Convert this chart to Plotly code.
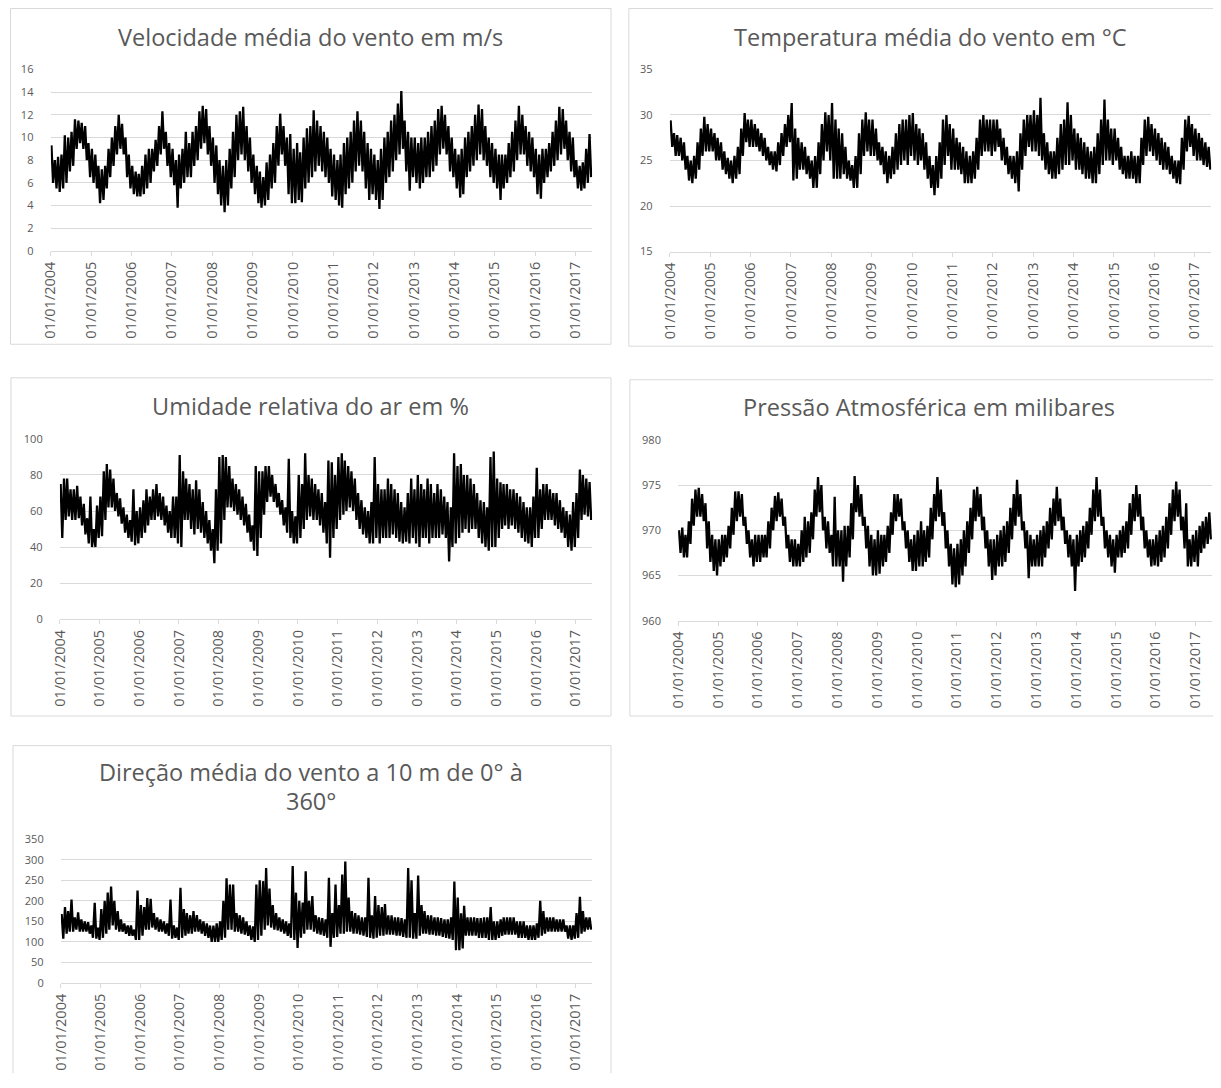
import pandas as pd
import plotly.graph_objects as go

# the page keeps an 8px body margin: figure is sized/positioned to compensate
OFF = 8
W, H = 1221 - OFF, 1088 - OFF

years = list(range(2004, 2018))
tick_vals = [f"{y}-01-01" for y in years]
tick_text = [f"01/01/{y}" for y in years]
months = pd.date_range("2004-01-01", "2017-05-01", freq="MS")

# ---- Velocidade média do vento (m/s): monthly low / high envelope
wind_lo = [6.0, 5.5, 5.2, 5.5, 6.0, 7.0, 7.5, 9.0, 9.5, 9.0, 8.0, 6.5,
           6.0, 5.5, 4.2, 4.5, 5.5, 6.5, 7.5, 8.5, 9.0, 8.5, 6.5, 5.5,
           5.0, 4.8, 4.8, 5.0, 5.5, 6.0, 7.0, 7.5, 8.5, 9.0, 7.5, 6.5,
           5.8, 3.8, 5.5, 6.0, 6.5, 6.5, 7.5, 8.0, 9.0, 9.5, 8.5, 7.5,
           6.0, 5.0, 4.0, 3.4, 4.0, 5.5, 6.5, 8.0, 8.5, 8.0, 7.0, 6.0,
           5.0, 4.2, 3.8, 4.0, 4.5, 5.5, 6.0, 7.5, 8.5, 7.5, 5.0, 4.2,
           4.2, 4.5, 4.3, 5.5, 6.0, 6.5, 7.0, 7.5, 7.0, 6.5, 6.0, 4.8,
           4.5, 4.0, 3.8, 5.0, 5.5, 6.0, 7.0, 7.5, 7.0, 5.5, 4.5, 5.0,
           4.5, 3.7, 4.5, 6.0, 6.5, 7.0, 8.0, 8.5, 9.0, 7.0, 5.3, 6.5,
           6.0, 5.5, 6.0, 6.5, 6.5, 7.0, 7.5, 8.5, 9.0, 8.5, 7.0, 6.5,
           5.5, 4.7, 5.0, 6.5, 7.0, 7.5, 8.0, 8.5, 8.0, 7.5, 6.5, 6.0,
           5.5, 4.5, 5.5, 6.0, 6.5, 7.0, 8.0, 8.5, 8.5, 7.5, 7.0, 6.5,
           5.0, 4.6, 6.0, 6.5, 7.0, 7.5, 8.0, 8.5, 9.0, 8.0, 7.0, 6.5,
           5.5, 5.3, 5.5, 6.0, 6.5]
wind_hi = [9.3, 8.0, 8.3, 8.5, 10.2, 10.0, 10.5, 11.6, 11.5, 11.3, 11.0, 9.5,
           9.0, 8.5, 7.5, 7.2, 7.5, 9.0, 10.0, 11.0, 12.0, 11.2, 10.0, 8.5,
           7.5, 7.0, 6.8, 7.5, 8.5, 9.0, 9.0, 9.8, 11.0, 12.3, 10.5, 9.5,
           9.0, 8.0, 8.5, 9.0, 10.5, 9.5, 10.5, 11.0, 12.3, 12.8, 12.5, 11.0,
           10.0, 9.3, 8.0, 7.5, 8.0, 9.0, 10.5, 12.0, 12.3, 12.7, 11.0, 10.0,
           8.5, 7.5, 7.0, 6.5, 7.8, 8.5, 9.5, 11.0, 12.1, 11.0, 10.0, 10.3,
           9.0, 9.5, 8.7, 10.0, 10.8, 11.0, 12.4, 11.5, 11.0, 10.5, 10.0, 9.0,
           8.5, 8.0, 8.5, 9.5, 10.0, 10.5, 11.5, 12.3, 11.5, 10.5, 9.5, 9.0,
           8.5, 8.0, 9.0, 10.0, 10.5, 11.5, 12.0, 13.0, 14.1, 11.5, 10.5, 10.0,
           10.0, 9.5, 10.0, 10.0, 10.5, 11.0, 11.5, 12.5, 12.8, 12.0, 11.0, 10.0,
           9.0, 8.5, 9.0, 10.0, 10.5, 11.0, 12.0, 12.9, 12.5, 11.0, 10.0, 9.5,
           9.0, 8.5, 8.5, 8.5, 9.5, 10.5, 11.5, 12.8, 12.0, 11.0, 10.5, 10.0,
           9.0, 8.5, 9.0, 9.0, 9.5, 10.5, 11.5, 12.7, 12.5, 11.5, 10.5, 10.0,
           8.0, 7.5, 7.8, 9.0, 10.3]

# ---- Temperatura média (°C)
temp_lo = [26.5, 25.5, 25.5, 25.0, 24.0, 22.8, 22.5, 23.0, 24.0, 25.5, 26.0, 26.0,
           26.0, 25.0, 25.0, 24.0, 23.5, 23.0, 22.5, 23.0, 23.5, 25.5, 27.0, 26.5,
           26.5, 26.5, 26.0, 25.5, 25.0, 24.5, 24.0, 23.8, 24.5, 25.5, 26.5, 27.0,
           22.8, 23.0, 24.0, 24.0, 23.5, 23.0, 22.0, 22.0, 23.5, 25.0, 26.0, 25.0,
           23.0, 23.0, 23.0, 23.5, 23.0, 22.8, 22.0, 22.0, 23.5, 25.5, 26.0, 25.5,
           25.5, 25.0, 24.5, 23.5, 22.5, 23.0, 23.5, 24.0, 24.5, 25.0, 24.5, 25.5,
           25.0, 24.5, 25.0, 24.0, 23.0, 22.0, 21.2, 22.0, 23.0, 24.5, 25.5, 24.0,
           24.0, 24.0, 23.5, 22.5, 22.5, 22.5, 23.0, 24.0, 25.5, 26.0, 26.0, 25.5,
           26.0, 26.5, 25.0, 24.5, 23.5, 23.0, 22.5, 21.6, 24.0, 25.5, 26.5, 26.0,
           26.0, 25.5, 25.0, 24.0, 23.5, 23.0, 23.0, 23.5, 24.0, 24.5, 24.5, 25.0,
           24.0, 24.0, 23.5, 23.0, 23.0, 22.5, 22.5, 23.5, 24.5, 25.0, 25.0, 24.5,
           25.0, 24.0, 23.5, 23.0, 23.0, 23.0, 22.5, 22.5, 24.5, 25.5, 26.0, 25.5,
           25.0, 24.5, 24.0, 24.0, 23.5, 23.0, 22.5, 22.4, 24.0, 26.0, 26.5, 25.5,
           25.0, 25.0, 24.5, 24.3, 24.0]
temp_hi = [29.4, 28.0, 27.8, 27.5, 27.0, 25.5, 25.0, 25.5, 27.0, 28.5, 29.8, 29.0,
           28.5, 28.0, 27.5, 27.0, 26.0, 25.3, 25.0, 25.5, 26.5, 28.5, 30.2, 29.5,
           29.5, 29.0, 28.5, 28.0, 27.5, 26.5, 26.0, 26.0, 27.0, 28.0, 29.0, 30.0,
           31.3, 28.5, 27.5, 27.0, 26.5, 25.5, 25.0, 25.5, 27.0, 29.0, 30.3, 30.0,
           31.3, 29.5, 28.5, 28.0, 26.5, 25.0, 24.5, 25.5, 28.0, 29.5, 30.3, 29.5,
           29.5, 28.5, 27.0, 26.5, 26.0, 25.5, 26.5, 28.0, 29.0, 29.5, 29.5, 30.0,
           30.2, 29.0, 28.5, 28.0, 27.0, 25.5, 24.5, 25.5, 27.0, 29.5, 30.0, 29.0,
           28.5, 27.5, 27.0, 26.5, 26.0, 25.5, 26.0, 27.5, 29.5, 30.0, 29.5, 29.5,
           29.5, 29.5, 28.5, 27.5, 26.5, 25.5, 25.5, 26.0, 28.0, 29.5, 30.0, 30.0,
           30.5, 30.0, 31.9, 28.0, 27.0, 26.0, 26.0, 27.5, 29.0, 29.5, 31.4, 30.0,
           28.5, 28.0, 27.5, 27.0, 26.5, 26.0, 26.5, 28.0, 29.5, 31.7, 29.5, 28.5,
           28.5, 27.5, 26.5, 25.5, 25.5, 26.0, 25.5, 25.5, 27.5, 29.5, 29.8, 29.0,
           28.5, 28.0, 27.5, 27.0, 26.5, 25.5, 25.0, 25.0, 27.5, 29.5, 29.9, 29.0,
           28.5, 28.0, 27.5, 27.0, 26.5]

# ---- Umidade relativa (%)
hum_lo = [45, 55, 57, 55, 55, 56, 52, 47, 42, 40, 40, 45,
          46, 55, 62, 62, 60, 57, 53, 48, 45, 43, 41, 42,
          45, 48, 52, 55, 55, 57, 55, 52, 48, 45, 45, 42,
          40, 55, 55, 50, 47, 50, 48, 45, 42, 38, 31, 38,
          42, 55, 62, 62, 60, 58, 55, 52, 48, 43, 38, 35,
          45, 58, 65, 68, 65, 62, 58, 52, 48, 45, 42, 42,
          45, 50, 55, 57, 55, 55, 52, 48, 42, 34, 45, 50,
          55, 58, 60, 62, 60, 55, 50, 47, 45, 42, 42, 45,
          42, 45, 45, 45, 47, 45, 43, 42, 43, 42, 45, 42,
          40, 45, 45, 42, 45, 45, 45, 47, 45, 32, 40, 42,
          45, 48, 50, 48, 50, 50, 45, 42, 40, 38, 40, 40,
          45, 50, 52, 50, 52, 50, 48, 45, 43, 42, 40, 45,
          45, 50, 55, 55, 55, 52, 50, 48, 45, 40, 38, 40,
          45, 55, 58, 57, 55]
hum_hi = [75, 78, 78, 72, 72, 74, 68, 64, 56, 68, 50, 63,
          68, 82, 86, 83, 78, 70, 67, 62, 58, 55, 72, 60,
          62, 66, 72, 68, 72, 75, 70, 68, 63, 60, 68, 68,
          91, 82, 78, 75, 72, 77, 72, 65, 60, 55, 50, 72,
          90, 91, 90, 85, 78, 75, 72, 68, 64, 58, 52, 85,
          82, 82, 85, 85, 80, 75, 70, 66, 62, 89, 60, 57,
          80, 75, 92, 80, 78, 75, 72, 70, 65, 88, 87, 80,
          90, 92, 88, 85, 82, 78, 70, 66, 62, 60, 65, 90,
          75, 72, 72, 78, 75, 72, 70, 65, 62, 70, 78, 72,
          80, 75, 72, 78, 75, 70, 75, 72, 68, 65, 62, 92,
          85, 86, 80, 80, 78, 75, 70, 66, 65, 62, 90, 93,
          78, 76, 75, 75, 72, 72, 70, 68, 65, 62, 62, 68,
          84, 72, 75, 75, 72, 70, 70, 66, 62, 60, 58, 65,
          70, 83, 80, 78, 76]

# ---- Pressão atmosférica (mbar)
pres_lo = [967.5, 967.0, 967.0, 968.5, 970.5, 971.5, 971.5, 971.0, 968.0, 966.5, 965.5, 965.0,
           966.0, 966.5, 967.0, 968.0, 969.5, 971.0, 971.5, 970.5, 968.5, 967.0, 966.0, 966.5,
           966.5, 967.0, 967.0, 968.0, 970.0, 971.0, 971.5, 970.5, 968.0, 966.5, 966.0, 966.0,
           966.0, 966.5, 967.0, 967.5, 969.0, 971.5, 972.0, 970.0, 968.0, 967.5, 966.0, 966.0,
           966.0, 964.3, 966.0, 967.0, 969.0, 972.0, 971.5, 970.5, 968.0, 966.0, 965.0, 965.0,
           965.2, 966.0, 966.5, 967.5, 969.5, 971.0, 971.5, 970.0, 968.0, 966.5, 965.5, 965.5,
           966.0, 966.0, 966.5, 967.0, 969.0, 971.0, 971.5, 970.5, 968.0, 966.0, 964.0, 963.7,
           964.0, 965.0, 966.0, 967.5, 969.0, 971.0, 971.5, 970.0, 968.0, 966.0, 964.5, 965.0,
           966.0, 966.0, 966.5, 967.5, 969.0, 970.5, 971.5, 970.0, 968.0, 964.7, 966.0, 966.0,
           966.0, 966.0, 967.0, 968.0, 969.0, 970.5, 971.0, 970.0, 968.5, 967.0, 966.0, 963.3,
           966.0, 966.5, 967.0, 968.0, 969.5, 971.0, 971.5, 970.5, 968.0, 967.0, 966.0, 965.3,
           967.0, 967.0, 967.5, 968.0, 969.5, 971.0, 971.5, 970.0, 968.0, 967.0, 966.0, 966.1,
           966.0, 966.5, 967.0, 968.0, 969.5, 971.0, 971.5, 970.0, 968.0, 966.0, 966.0, 966.5,
           966.0, 967.5, 968.0, 968.5, 969.0]
pres_hi = [970.0, 970.3, 969.5, 971.0, 973.5, 974.5, 974.7, 974.0, 973.0, 971.0, 969.5, 969.0,
           969.0, 969.5, 969.5, 970.5, 972.5, 974.3, 974.3, 974.0, 971.5, 970.0, 969.0, 969.5,
           969.5, 969.5, 969.5, 971.0, 972.5, 973.8, 974.2, 973.5, 971.5, 969.5, 969.0, 969.0,
           968.5, 970.0, 971.5, 971.0, 972.0, 974.5, 975.9, 975.0, 971.5, 971.0, 969.5, 973.7,
           970.0, 970.0, 970.5, 970.5, 973.0, 976.0, 975.0, 974.0, 971.5, 970.5, 969.5, 969.0,
           970.0, 969.5, 969.5, 970.5, 972.0, 974.0, 974.0, 973.5, 971.0, 970.0, 969.0, 969.5,
           970.0, 971.0, 970.0, 970.5, 972.5, 974.0, 975.9, 974.5, 972.0, 970.0, 968.5, 968.0,
           968.5, 969.0, 970.0, 971.0, 972.5, 974.5, 974.8, 974.0, 971.5, 970.0, 969.0, 969.0,
           969.5, 970.0, 970.5, 971.0, 972.5, 974.0, 975.6, 974.0, 971.0, 970.0, 969.5, 969.0,
           969.5, 970.0, 970.5, 971.0, 972.5, 973.5, 974.8, 973.5, 971.5, 970.0, 969.5, 969.0,
           969.5, 970.0, 970.5, 971.0, 972.5, 974.5, 975.9, 974.5, 971.5, 970.0, 969.5, 969.0,
           969.5, 970.0, 970.5, 971.0, 973.0, 974.0, 975.0, 974.0, 971.5, 970.0, 969.0, 969.0,
           969.5, 970.0, 970.5, 971.5, 973.0, 974.5, 975.4, 974.5, 971.5, 973.0, 969.0, 969.5,
           970.0, 970.5, 971.0, 971.5, 972.0]

# ---- Direção média do vento (graus)
dir_lo = [108, 120, 125, 125, 130, 125, 125, 125, 120, 110, 108, 105,
          110, 120, 130, 140, 130, 125, 125, 120, 115, 115, 105, 105,
          115, 130, 130, 135, 130, 125, 125, 120, 115, 108, 110, 105,
          110, 115, 120, 120, 125, 125, 120, 115, 110, 100, 100, 100,
          105, 110, 130, 130, 125, 125, 120, 118, 115, 105, 100, 105,
          115, 130, 140, 135, 130, 128, 125, 120, 115, 110, 105, 85,
          110, 120, 130, 130, 125, 120, 118, 115, 110, 88, 110, 112,
          120, 120, 125, 125, 120, 120, 118, 115, 112, 110, 108, 110,
          115, 115, 118, 118, 118, 115, 115, 112, 110, 110, 108, 108,
          115, 120, 120, 118, 118, 115, 115, 112, 110, 108, 105, 80,
          80, 84, 115, 115, 115, 115, 110, 110, 110, 105, 105, 105,
          110, 115, 118, 118, 118, 118, 110, 110, 110, 105, 105, 105,
          110, 115, 120, 125, 125, 125, 125, 125, 125, 108, 105, 108,
          110, 120, 125, 130, 130]
dir_hi = [168, 185, 175, 203, 160, 172, 155, 150, 148, 140, 195, 135,
          180, 200, 220, 235, 200, 175, 155, 145, 140, 140, 130, 225,
          190, 185, 207, 205, 170, 160, 155, 150, 145, 203, 140, 135,
          232, 180, 170, 165, 175, 165, 155, 150, 145, 140, 140, 145,
          150, 200, 255, 240, 240, 170, 165, 160, 150, 140, 138, 240,
          250, 248, 280, 230, 190, 170, 160, 155, 150, 145, 285, 220,
          200, 196, 272, 200, 212, 165, 160, 158, 155, 256, 170, 240,
          190, 264, 296, 208, 175, 170, 165, 160, 160, 256, 165, 212,
          190, 185, 192, 165, 165, 160, 160, 158, 155, 280, 250, 170,
          262, 190, 175, 165, 165, 160, 160, 158, 155, 155, 160, 247,
          208, 170, 188, 160, 160, 160, 158, 158, 160, 160, 185, 150,
          150, 155, 160, 160, 160, 160, 150, 150, 150, 140, 140, 140,
          145, 200, 175, 160, 160, 160, 155, 155, 155, 140, 140, 140,
          170, 210, 175, 160, 160]

titles = ["Velocidade média do vento em m/s",
          "Temperatura média do vento em °C",
          "Umidade relativa do ar em %",
          "Pressão Atmosférica em milibares",
          "Direção média do vento a 10 m de 0° à",
          "360°"]


def zigzag(lo, hi):
    xs, ys = [], []
    for m, a, b in zip(months, lo, hi):
        xs += [m + pd.Timedelta(days=7), m + pd.Timedelta(days=22)]
        ys += [b, a]
    return xs, ys


def fx(px):
    return (px - OFF) / W


def fy(py):
    return 1 - (py - OFF) / H


# panel geometry in screen pixels; open=True -> panel runs past the window edge
panels = [
    dict(lo=wind_lo, hi=wind_hi, x=(49, 595), y=(70.3, 254.3), r=(0, 16), dt=2,
         box=(8.5, 8.5, 614, 349), title_y=37, cx=311, open=False),
    dict(lo=temp_lo, hi=temp_hi, x=(673.3, 1219.3), y=(70.3, 255), r=(15, 35), dt=5,
         box=(632, 8.5, None, 351), title_y=37, cx=936, open=True),
    dict(lo=hum_lo, hi=hum_hi, x=(58.3, 595), y=(445, 627.7), r=(0, 100), dt=20,
         box=(9, 383, 614, 726), title_y=412, cx=311.5, open=False),
    dict(lo=pres_lo, hi=pres_hi, x=(681.7, 1219.9), y=(446, 629.3), r=(960, 980), dt=5,
         box=(633, 385, None, 726), title_y=413, cx=935, open=True),
    dict(lo=dir_lo, hi=dir_hi, x=(59.3, 595), y=(851, 996.7), r=(0, 350), dt=50,
         box=(11, 756, 614, None), title_y=None, cx=311, open=False),
]

GRID = "#d9d9d9"
TXT = "#595959"
FONT = "Open Sans"

fig = go.Figure()
layout = dict(width=W, height=H, margin=dict(l=0, r=0, t=0, b=0),
              paper_bgcolor="white", plot_bgcolor="white", showlegend=False,
              shapes=[], annotations=[])


def seg(xa, ya, xb, yb):
    return dict(type="line", xref="paper", yref="paper", x0=xa, y0=ya, x1=xb, y1=yb,
                line=dict(color=GRID, width=1), layer="below")


for i, p in enumerate(panels):
    n = "" if i == 0 else str(i + 1)
    xs, ys = zigzag(p["lo"], p["hi"])
    fig.add_trace(go.Scatter(x=xs, y=ys, mode="lines",
                             line=dict(color="black", width=2.3),
                             xaxis="x" + n, yaxis="y" + n, hoverinfo="skip"))
    x_lo, x_hi = fx(p["x"][0]), fx(p["x"][1])
    rng = ["2004-01-01", "2017-06-01"]
    if x_hi > 1.0:
        # plot area runs past the window edge: keep the same time scale
        start, end = pd.Timestamp(rng[0]), pd.Timestamp(rng[1])
        frac = (1.0 - x_lo) / (x_hi - x_lo)
        rng = [start, start + (end - start) * frac]
        x_hi = 1.0
    layout["xaxis" + n] = dict(
        domain=[x_lo, x_hi], anchor="y" + n, type="date",
        range=rng, tickvals=tick_vals, ticktext=tick_text,
        tickangle=-90, ticks="outside", ticklen=4, tickcolor=GRID,
        showline=True, linecolor=GRID, linewidth=1, showgrid=False, zeroline=False,
        tickfont=dict(family=FONT, size=14.5, color=TXT))
    layout["yaxis" + n] = dict(
        domain=[fy(p["y"][1]), fy(p["y"][0])], anchor="x" + n,
        range=list(p["r"]), dtick=p["dt"], tick0=p["r"][0], showgrid=True,
        gridcolor=GRID, gridwidth=1, zeroline=False, showline=False,
        ticks="outside", ticklen=14, tickcolor="rgba(0,0,0,0)",
        tickfont=dict(family=FONT, size=11, color=TXT))
    # panel frame, drawn as separate edges (edges past the window are omitted)
    x0, y0, x1, y1 = p["box"]
    right = 1.0 if x1 is None else fx(x1)
    bottom = 0.0 if y1 is None else fy(y1)
    layout["shapes"].append(seg(fx(x0), fy(y0), right, fy(y0)))
    layout["shapes"].append(seg(fx(x0), fy(y0), fx(x0), bottom))
    if y1 is not None:
        layout["shapes"].append(seg(fx(x0), bottom, right, bottom))
    if x1 is not None:
        layout["shapes"].append(seg(right, fy(y0), right, bottom))
    if p["title_y"] is not None:
        layout["annotations"].append(dict(text=titles[i], x=fx(p["cx"]), y=fy(p["title_y"]),
                                          xref="paper", yref="paper", showarrow=False,
                                          xanchor="center", yanchor="middle",
                                          font=dict(family=FONT, size=23.5, color=TXT)))

for t, yy in [(titles[4], 783), (titles[5], 812)]:
    layout["annotations"].append(dict(text=t, x=fx(311), y=fy(yy),
                                      xref="paper", yref="paper", showarrow=False,
                                      xanchor="center", yanchor="middle",
                                      font=dict(family=FONT, size=23.5, color=TXT)))

fig.update_layout(**layout)
fig.write_html("out.html")
